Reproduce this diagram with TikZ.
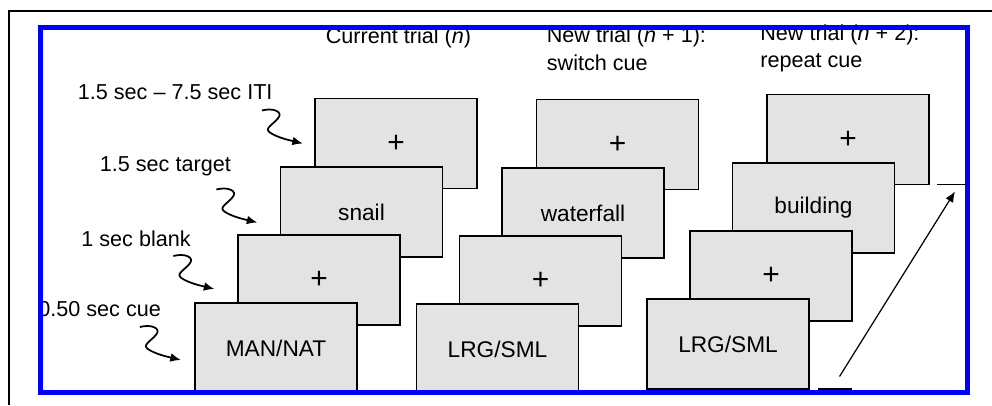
\documentclass[tikz,border=0pt]{standalone}
\usepackage{fontspec}
\setmainfont{Liberation Sans}
\usetikzlibrary{positioning,arrows.meta}

\newcommand\fixcross{{\fontsize{17}{17}\selectfont +}}
\tikzset{
  screen/.style={draw,line width=0.7pt,fill=black!11,minimum width=3.24cm,minimum height=1.8cm,inner sep=0pt,
    font=\fontsize{12.9}{15}\selectfont},
  lbl/.style={anchor=base west,inner sep=0pt},
  squig/.style={line width=1pt,-{Latex[length=6pt,width=5pt]}},
}

\begin{document}
\begin{tikzpicture}[font=\fontsize{12.3}{15.4}\selectfont]
\useasboundingbox (0,0) rectangle (19.84,8.1);
% frame round the page, only left and top edge show
\draw[line width=1.1pt] (0.18,0) -- (0.18,7.88) -- (19.84,7.88);
\begin{scope}
\clip (0.76,0.21) rectangle (19.4,7.61);
% three trials, screens drawn from back to front
\foreach \c/\x/\y/\w/\q in {1/5.52/1.14/snail/{MAN/NAT},2/9.95/1.12/waterfall/{LRG/SML},3/14.56/1.22/building/{LRG/SML}}{
  \node[screen] (iti\c) at (\x+2.40,\y+4.09) {\fixcross};
  \node[screen] (tgt\c) at (\x+1.71,\y+2.72) {\w};
  \node[screen] (blk\c) at (\x+0.86,\y+1.36) {\fixcross};
  \node[screen] (cue\c) at (\x,\y) {\q};
}
% headings (base is the last line)
\node[lbl] (hd1) at (6.51,7.24) {Current trial (\textit{n})};
\node[lbl,align=left] (hd2) at (10.93,6.70) {New trial (\textit{n} + 1):\\switch cue};
\node[lbl,align=left] (hd3) at (15.2,6.75) {New trial (\textit{n} + 2):\\repeat cue};
% timings on the left
\node[lbl] (tITI) at (1.55,6.11) {1.5 sec \textendash{} 7.5 sec ITI};
\node[lbl] (tTGT) at (1.99,4.67) {1.5 sec target};
\node[lbl] (tBLK) at (1.62,3.18) {1 sec blank};
\node[lbl] (tCUE) at (0.76,1.78) {0.50 sec cue};
\coordinate (a1) at ([shift={(-0.23,0)}]iti1.west);
\coordinate (a2) at ([shift={(-0.45,-0.21)}]tgt1.west);
\coordinate (a3) at ([shift={(-0.46,-0.18)}]blk1.west);
\coordinate (a4) at ([shift={(-0.27,-0.24)}]cue1.west);
\foreach \t in {a1,a2,a3,a4}{
 \draw[squig,shift={(\t)}] (-0.82,0.66) .. controls (-0.6,0.72) and (-0.38,0.64) .. (-0.5,0.5)
   .. controls (-0.6,0.38) and (-0.78,0.3) .. (-0.66,0.22) .. controls (-0.52,0.12) and (-0.25,0.06) .. (0,0);}
% next trial
\coordinate (lo) at (16.79,0.57);
\coordinate (hi) at (19.1,4.27);
\draw[line width=0.7pt,-{Latex[length=6pt,width=5pt]}] (lo) -- (hi);
\draw[line width=0.7pt] (18.74,4.41) -- (19.4,4.41);
\draw[line width=0.7pt] (16.36,0.32) -- (17.04,0.32);
\end{scope}
\draw[blue,line width=0.1cm] (0.81,0.26) rectangle (19.35,7.56);
\end{tikzpicture}
\end{document}
